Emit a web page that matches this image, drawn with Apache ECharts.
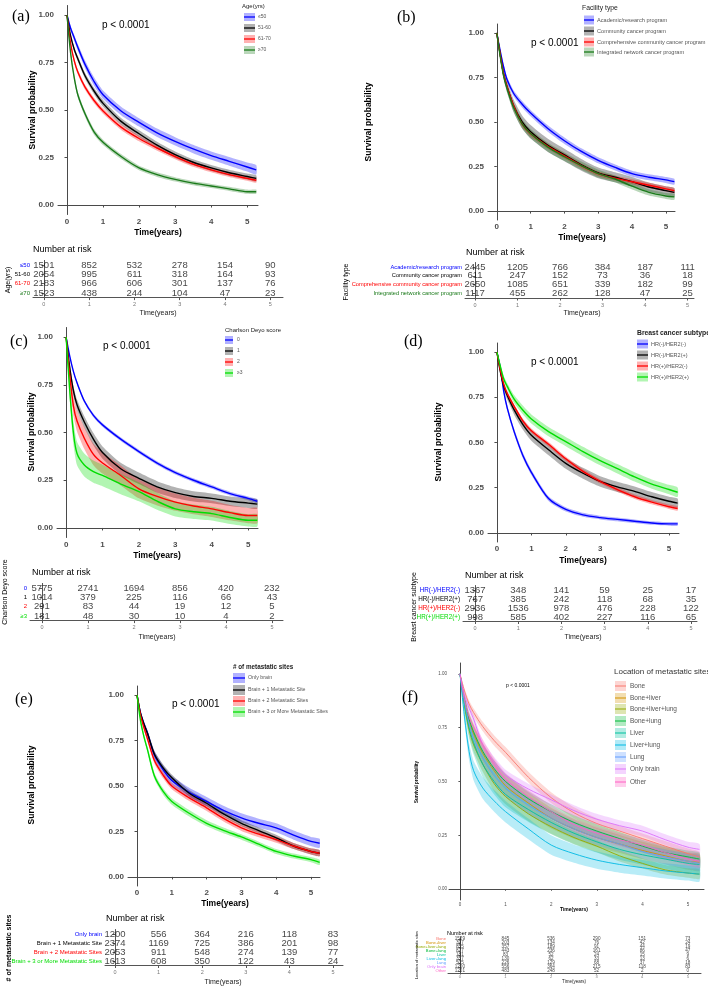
<!DOCTYPE html>
<html><head><meta charset="utf-8">
<script src="https://cdn.jsdelivr.net/npm/echarts@6/dist/echarts.min.js"></script>
<style>html,body{margin:0;padding:0;background:#fff}#c{width:708px;height:989px}</style>
</head><body><div id="c"></div>
<script>
// ---------- DATA ----------
const T = [0, 0.1, 0.2, 0.3, 0.5, 0.75, 1, 1.5, 2, 2.5, 3, 3.5, 4, 4.5, 5, 5.25];
const riskTimes = [0, 1, 2, 3, 4, 5];
const xTicks = [0, 1, 2, 3, 4, 5];
const yTicks = [0, 0.25, 0.5, 0.75, 1];

// (a) Age
const ageGroups = ['≤50', '51-60', '61-70', '≥70'];
const ageSurv = [
  [1, 0.93, 0.88, 0.83, 0.74, 0.65, 0.58, 0.495, 0.435, 0.38, 0.335, 0.295, 0.26, 0.23, 0.20, 0.185],
  [1, 0.89, 0.82, 0.77, 0.68, 0.60, 0.535, 0.44, 0.375, 0.315, 0.265, 0.225, 0.195, 0.17, 0.15, 0.14],
  [1, 0.85, 0.76, 0.70, 0.62, 0.55, 0.495, 0.41, 0.35, 0.30, 0.255, 0.215, 0.185, 0.16, 0.14, 0.13],
  [1, 0.80, 0.67, 0.58, 0.48, 0.385, 0.33, 0.255, 0.195, 0.16, 0.135, 0.115, 0.10, 0.085, 0.07, 0.07]
];
const ageCI = [
  [0, 0.012, 0.015, 0.017, 0.02, 0.022, 0.022, 0.022, 0.022, 0.022, 0.022, 0.022, 0.022, 0.023, 0.024, 0.025],
  [0, 0.01, 0.012, 0.014, 0.016, 0.017, 0.018, 0.018, 0.018, 0.018, 0.017, 0.016, 0.016, 0.016, 0.016, 0.016],
  [0, 0.01, 0.012, 0.013, 0.014, 0.015, 0.015, 0.015, 0.015, 0.014, 0.014, 0.014, 0.013, 0.013, 0.013, 0.013],
  [0, 0.012, 0.014, 0.015, 0.015, 0.015, 0.014, 0.013, 0.012, 0.012, 0.011, 0.011, 0.011, 0.011, 0.011, 0.011]
];
const ageRisk = [
  [1501, 852, 532, 278, 154, 90],
  [2054, 995, 611, 318, 164, 93],
  [2183, 966, 606, 301, 137, 76],
  [1523, 438, 244, 104, 47, 23]
];

// (b) Facility type
const facGroups = ['Academic/research program', 'Community cancer program', 'Comprehensive community cancer program', 'Integrated network cancer program'];
const facSurv = [
  [1, 0.90, 0.81, 0.74, 0.66, 0.60, 0.55, 0.465, 0.395, 0.335, 0.285, 0.245, 0.21, 0.19, 0.175, 0.165],
  [1, 0.88, 0.77, 0.70, 0.59, 0.50, 0.445, 0.37, 0.315, 0.26, 0.215, 0.19, 0.165, 0.135, 0.115, 0.105],
  [1, 0.88, 0.77, 0.70, 0.59, 0.49, 0.435, 0.365, 0.31, 0.255, 0.21, 0.185, 0.165, 0.145, 0.125, 0.115],
  [1, 0.87, 0.76, 0.69, 0.58, 0.49, 0.435, 0.36, 0.305, 0.255, 0.21, 0.18, 0.14, 0.105, 0.085, 0.08]
];
const facCI = [
  [0, 0.01, 0.013, 0.015, 0.017, 0.018, 0.018, 0.018, 0.018, 0.017, 0.017, 0.017, 0.017, 0.017, 0.017, 0.017],
  [0, 0.02, 0.025, 0.03, 0.035, 0.037, 0.038, 0.037, 0.035, 0.033, 0.03, 0.028, 0.027, 0.026, 0.025, 0.025],
  [0, 0.01, 0.012, 0.014, 0.016, 0.016, 0.016, 0.015, 0.015, 0.014, 0.014, 0.014, 0.014, 0.014, 0.014, 0.014],
  [0, 0.015, 0.02, 0.022, 0.025, 0.026, 0.026, 0.025, 0.024, 0.023, 0.022, 0.02, 0.019, 0.018, 0.017, 0.017]
];
const facRisk = [
  [2445, 1205, 766, 384, 187, 111],
  [611, 247, 152, 73, 36, 18],
  [2650, 1085, 651, 339, 182, 99],
  [1117, 455, 262, 128, 47, 25]
];

// (c) Charlson Deyo score
const cdsGroups = ['0', '1', '2', '≥3'];
const cdsSurv = [
  [1, 0.90, 0.82, 0.76, 0.665, 0.59, 0.54, 0.465, 0.40, 0.34, 0.29, 0.25, 0.215, 0.18, 0.155, 0.14],
  [1, 0.84, 0.72, 0.645, 0.555, 0.465, 0.395, 0.31, 0.26, 0.215, 0.185, 0.165, 0.155, 0.14, 0.13, 0.125],
  [1, 0.80, 0.64, 0.56, 0.47, 0.385, 0.34, 0.275, 0.205, 0.165, 0.135, 0.115, 0.10, 0.08, 0.065, 0.065],
  [1, 0.72, 0.50, 0.39, 0.33, 0.295, 0.275, 0.23, 0.19, 0.14, 0.10, 0.085, 0.075, 0.055, 0.04, 0.04]
];
const cdsCI = [
  [0, 0.005, 0.007, 0.008, 0.009, 0.01, 0.01, 0.01, 0.01, 0.01, 0.01, 0.01, 0.01, 0.01, 0.01, 0.01],
  [0, 0.02, 0.025, 0.028, 0.03, 0.032, 0.032, 0.031, 0.03, 0.03, 0.028, 0.027, 0.026, 0.025, 0.025, 0.025],
  [0, 0.04, 0.05, 0.055, 0.057, 0.056, 0.055, 0.052, 0.05, 0.047, 0.045, 0.043, 0.042, 0.04, 0.04, 0.04],
  [0, 0.05, 0.06, 0.062, 0.06, 0.058, 0.056, 0.053, 0.05, 0.045, 0.04, 0.038, 0.036, 0.034, 0.032, 0.032]
];
const cdsRisk = [
  [5775, 2741, 1694, 856, 420, 232],
  [1014, 379, 225, 116, 66, 43],
  [291, 83, 44, 19, 12, 5],
  [181, 48, 30, 10, 4, 2]
];

// (d) Breast cancer subtype
const subGroups = ['HR(-)/HER2(-)', 'HR(-)/HER2(+)', 'HR(+)/HER2(-)', 'HR(+)/HER2(+)'];
const subSurv = [
  [1, 0.91, 0.78, 0.69, 0.56, 0.43, 0.335, 0.19, 0.13, 0.10, 0.085, 0.075, 0.065, 0.055, 0.05, 0.05],
  [1, 0.89, 0.81, 0.76, 0.68, 0.60, 0.54, 0.46, 0.385, 0.33, 0.285, 0.255, 0.23, 0.20, 0.175, 0.165],
  [1, 0.90, 0.82, 0.77, 0.70, 0.62, 0.565, 0.49, 0.41, 0.34, 0.285, 0.24, 0.20, 0.17, 0.145, 0.135],
  [1, 0.92, 0.85, 0.81, 0.74, 0.68, 0.63, 0.56, 0.505, 0.45, 0.40, 0.355, 0.31, 0.27, 0.24, 0.225]
];
const subCI = [
  [0, 0.01, 0.013, 0.015, 0.016, 0.016, 0.015, 0.013, 0.012, 0.011, 0.01, 0.01, 0.01, 0.01, 0.01, 0.01],
  [0, 0.015, 0.02, 0.023, 0.026, 0.028, 0.03, 0.03, 0.03, 0.03, 0.029, 0.028, 0.027, 0.026, 0.025, 0.025],
  [0, 0.008, 0.01, 0.011, 0.012, 0.013, 0.013, 0.013, 0.013, 0.013, 0.012, 0.012, 0.012, 0.012, 0.012, 0.012],
  [0, 0.012, 0.016, 0.018, 0.022, 0.024, 0.025, 0.026, 0.026, 0.026, 0.026, 0.026, 0.026, 0.026, 0.026, 0.026]
];
const subRisk = [
  [1367, 348, 141, 59, 25, 17],
  [767, 385, 242, 118, 68, 35],
  [2936, 1536, 978, 476, 228, 122],
  [998, 585, 402, 227, 116, 65]
];

// (e) # of metastatic sites
const numGroups = ['Only brain', 'Brain + 1 Metastatic Site', 'Brain + 2 Metastatic Sites', 'Brain + 3 or More Metastatic Sites'];
const numSurv = [
  [1, 0.90, 0.84, 0.79, 0.67, 0.59, 0.53, 0.465, 0.415, 0.365, 0.325, 0.295, 0.27, 0.23, 0.195, 0.185],
  [1, 0.90, 0.84, 0.79, 0.675, 0.60, 0.545, 0.46, 0.405, 0.345, 0.295, 0.255, 0.215, 0.17, 0.14, 0.13],
  [1, 0.89, 0.82, 0.76, 0.64, 0.56, 0.50, 0.435, 0.38, 0.32, 0.27, 0.235, 0.205, 0.17, 0.14, 0.13],
  [1, 0.86, 0.77, 0.70, 0.555, 0.47, 0.415, 0.35, 0.295, 0.255, 0.22, 0.18, 0.14, 0.115, 0.095, 0.08]
];
const numCI = [
  [0, 0.012, 0.016, 0.019, 0.022, 0.024, 0.025, 0.025, 0.025, 0.025, 0.025, 0.025, 0.025, 0.025, 0.025, 0.025],
  [0, 0.01, 0.012, 0.014, 0.017, 0.018, 0.018, 0.018, 0.018, 0.017, 0.017, 0.017, 0.017, 0.017, 0.017, 0.017],
  [0, 0.01, 0.012, 0.014, 0.017, 0.018, 0.018, 0.018, 0.018, 0.017, 0.017, 0.017, 0.017, 0.017, 0.017, 0.017],
  [0, 0.01, 0.012, 0.014, 0.017, 0.018, 0.018, 0.018, 0.017, 0.016, 0.015, 0.014, 0.014, 0.014, 0.014, 0.014]
];
const numRisk = [
  [1200, 556, 364, 216, 118, 83],
  [2374, 1169, 725, 386, 201, 98],
  [2053, 911, 548, 274, 139, 77],
  [1613, 608, 350, 122, 43, 24]
];

// (f) Location of metastatic sites
const locGroups = ['Bone', 'Bone+liver', 'Bone+liver+lung', 'Bone+lung', 'Liver', 'Liver+lung', 'Lung', 'Only brain', 'Other'];
const locSurv = [
  [1, 0.92, 0.86, 0.82, 0.755, 0.69, 0.635, 0.52, 0.425, 0.355, 0.305, 0.27, 0.235, 0.20, 0.165, 0.15],
  [1, 0.88, 0.78, 0.72, 0.63, 0.55, 0.48, 0.40, 0.33, 0.28, 0.24, 0.21, 0.18, 0.155, 0.13, 0.125],
  [1, 0.85, 0.74, 0.67, 0.58, 0.49, 0.43, 0.35, 0.29, 0.24, 0.20, 0.155, 0.12, 0.09, 0.075, 0.07],
  [1, 0.88, 0.79, 0.73, 0.64, 0.56, 0.50, 0.42, 0.36, 0.31, 0.27, 0.235, 0.20, 0.17, 0.15, 0.14],
  [1, 0.86, 0.75, 0.68, 0.58, 0.50, 0.44, 0.37, 0.31, 0.26, 0.22, 0.185, 0.16, 0.14, 0.12, 0.115],
  [1, 0.80, 0.64, 0.55, 0.47, 0.41, 0.36, 0.28, 0.205, 0.165, 0.135, 0.115, 0.10, 0.085, 0.075, 0.07],
  [1, 0.87, 0.77, 0.70, 0.61, 0.53, 0.47, 0.39, 0.33, 0.28, 0.24, 0.21, 0.175, 0.15, 0.13, 0.12],
  [1, 0.90, 0.84, 0.79, 0.67, 0.59, 0.53, 0.465, 0.415, 0.365, 0.325, 0.295, 0.27, 0.23, 0.195, 0.185],
  [1, 0.88, 0.80, 0.75, 0.67, 0.58, 0.51, 0.43, 0.36, 0.30, 0.26, 0.23, 0.205, 0.17, 0.14, 0.13]
];
const locCI = [
  [0, 0.012, 0.016, 0.019, 0.022, 0.024, 0.025, 0.025, 0.025, 0.025, 0.024, 0.024, 0.024, 0.024, 0.024, 0.024],
  [0, 0.03, 0.04, 0.045, 0.05, 0.05, 0.05, 0.05, 0.048, 0.046, 0.044, 0.042, 0.04, 0.04, 0.04, 0.04],
  [0, 0.02, 0.028, 0.032, 0.035, 0.036, 0.036, 0.035, 0.033, 0.03, 0.028, 0.026, 0.024, 0.022, 0.022, 0.022],
  [0, 0.02, 0.028, 0.032, 0.035, 0.036, 0.036, 0.035, 0.034, 0.033, 0.032, 0.031, 0.03, 0.03, 0.03, 0.03],
  [0, 0.04, 0.05, 0.055, 0.06, 0.06, 0.06, 0.058, 0.055, 0.052, 0.05, 0.048, 0.046, 0.045, 0.045, 0.045],
  [0, 0.03, 0.04, 0.045, 0.05, 0.05, 0.05, 0.048, 0.045, 0.042, 0.04, 0.038, 0.036, 0.035, 0.035, 0.035],
  [0, 0.025, 0.032, 0.036, 0.04, 0.042, 0.042, 0.042, 0.04, 0.038, 0.036, 0.035, 0.034, 0.034, 0.034, 0.034],
  [0, 0.012, 0.016, 0.019, 0.022, 0.024, 0.025, 0.025, 0.025, 0.025, 0.025, 0.025, 0.025, 0.025, 0.025, 0.025],
  [0, 0.015, 0.02, 0.023, 0.026, 0.028, 0.03, 0.03, 0.03, 0.03, 0.03, 0.03, 0.03, 0.03, 0.03, 0.03]
];
const locRisk = [
  [1529, 845, 536, 290, 151, 73],
  [397, 203, 134, 76, 42, 24],
  [855, 357, 189, 91, 44, 19],
  [877, 443, 236, 161, 86, 47],
  [181, 83, 52, 24, 15, 9],
  [357, 130, 62, 33, 13, 6],
  [505, 226, 129, 68, 37, 18],
  [1200, 556, 364, 215, 118, 83],
  [1201, 483, 248, 52, 2, 0]
];

// ---------- STYLE / LAYOUT ----------
const SANS = 'Liberation Sans, Arial, Helvetica, sans-serif';
const SERIF = 'Liberation Serif, Times New Roman, serif';
const colA = ['#0000FF', '#000000', '#FF0000', '#1A7A1A'];
const colC = ['#0000FF', '#000000', '#FF0000', '#00DD00'];
const colF = ['#F8766D', '#D39200', '#93AA00', '#00BA38', '#00C19F', '#00B9E3', '#619CFF', '#DB72FB', '#FF61C3'];

const plots = [
  {l: 58, t: 5.5, w: 200, h: 209, xmin: -0.25, xmax: 5.3, surv: ageSurv, ci: ageCI, col: colA, lw: 1.4, fs: 8},
  {l: 488, t: 24, w: 187, h: 196, xmin: -0.26, xmax: 5.27, surv: facSurv, ci: facCI, col: colA, lw: 1.4, fs: 8},
  {l: 57, t: 327.5, w: 201, h: 210, xmin: -0.25, xmax: 5.27, surv: cdsSurv, ci: cdsCI, col: colC, lw: 1.4, fs: 8},
  {l: 488, t: 343, w: 191, h: 199, xmin: -0.26, xmax: 5.29, surv: subSurv, ci: subCI, col: colC, lw: 1.4, fs: 8},
  {l: 128, t: 686, w: 192, h: 200, xmin: -0.26, xmax: 5.26, surv: numSurv, ci: numCI, col: colC, lw: 1.4, fs: 8},
  {l: 449, t: 663, w: 255, h: 237, xmin: -0.24, xmax: 5.35, surv: locSurv, ci: locCI, col: colF, lw: 0.9, fs: 4.5, thin: true}
];
const tables = [
  {l: 33, t: 260.4, w: 250, h: 37.2, xmin: -0.24, xmax: 5.28, names: ageGroups, risk: ageRisk, col: colA, fs: 9.5, lfs: 6},
  {l: 465, t: 262.5, w: 229, h: 35.5, xmin: -0.235, xmax: 5.15, names: facGroups, risk: facRisk, col: colA, fs: 9.5, lfs: 5.7},
  {l: 30, t: 583.4, w: 253, h: 37.2, xmin: -0.26, xmax: 5.24, names: cdsGroups, risk: cdsRisk, col: colC, fs: 9.5, lfs: 6},
  {l: 463, t: 585.5, w: 234, h: 36, xmin: -0.28, xmax: 5.14, names: subGroups, risk: subRisk, col: colC, fs: 9.5, lfs: 6.3},
  {l: 105, t: 929.5, w: 238, h: 36, xmin: -0.23, xmax: 5.23, names: numGroups, risk: numRisk, col: colC, fs: 9.5, lfs: 6},
  {l: 448, t: 937, w: 253, h: 36, xmin: -0.26, xmax: 5.29, names: locGroups, risk: locRisk, col: colF, fs: 4.6, lfs: 4.2, thin: true}
];

function hexA(hex, a) {
  const n = parseInt(hex.slice(1), 16);
  return 'rgba(' + (n >> 16 & 255) + ',' + (n >> 8 & 255) + ',' + (n & 255) + ',' + a + ')';
}

const grids = [], xAxes = [], yAxes = [], series = [];
const AX = '#4a4a4a';
const SM = 0.3;

plots.forEach((p, gi) => {
  grids.push({left: p.l, top: p.t, width: p.w, height: p.h, containLabel: false, outerBoundsMode: 'none'});
  xAxes.push({
    gridIndex: gi, type: 'value', min: p.xmin, max: p.xmax,
    axisLine: {show: true, lineStyle: {color: AX, width: 1}},
    axisTick: {show: true, customValues: xTicks, length: p.thin ? 1.5 : 2.5, lineStyle: {color: AX}},
    axisLabel: {customValues: xTicks, fontSize: p.fs, fontWeight: p.thin ? 'normal' : 'bold', color: '#4d4d4d', margin: p.thin ? 2 : 3, fontFamily: SANS},
    splitLine: {show: false}
  });
  yAxes.push({
    gridIndex: gi, type: 'value', min: -0.05, max: 1.05,
    axisLine: {show: true, lineStyle: {color: AX, width: 1}},
    axisTick: {show: true, customValues: yTicks, length: p.thin ? 1.5 : 2.5, lineStyle: {color: AX}},
    axisLabel: {customValues: yTicks, fontSize: p.fs, fontWeight: p.thin ? 'normal' : 'bold', color: '#4d4d4d', margin: p.thin ? 2 : 4, fontFamily: SANS, formatter: v => v.toFixed(2)},
    splitLine: {show: false}
  });
  // confidence bands (polygons through the axis scales)
  p.surv.forEach((s, k) => {
    const ci = p.ci[k];
    const fill = hexA(p.col[k], p.thin ? 0.28 : 0.3);
    series.push({
      type: 'custom', xAxisIndex: gi, yAxisIndex: gi, silent: true, clip: true, z: 1,
      data: [[T[0], s[0]]],
      renderItem: (params, api) => {
        const up = T.map((t, i) => api.coord([t, s[i] + ci[i]]));
        const lo = T.map((t, i) => api.coord([t, s[i] - ci[i]])).reverse();
        return {type: 'polygon', shape: {points: up.concat(lo), smooth: 0.2}, style: {fill: fill}};
      }
    });
  });
  // survival curves
  p.surv.forEach((s, k) => {
    series.push({type: 'line', xAxisIndex: gi, yAxisIndex: gi, symbol: 'none', smooth: SM, silent: true, z: 3,
      lineStyle: {color: p.col[k], width: p.lw}, data: T.map((t, i) => [t, s[i]])});
  });
});

tables.forEach((tb, j) => {
  const gi = plots.length + j;
  grids.push({left: tb.l, top: tb.t, width: tb.w, height: tb.h, containLabel: false, outerBoundsMode: 'none'});
  xAxes.push({
    gridIndex: gi, type: 'value', min: tb.xmin, max: tb.xmax,
    axisLine: {show: true, lineStyle: {color: '#555', width: 1}},
    axisTick: {show: true, customValues: xTicks, length: tb.thin ? 1.5 : 2.5, lineStyle: {color: '#555'}},
    axisLabel: {customValues: xTicks, fontSize: tb.thin ? 4 : 5.5, color: '#777', margin: tb.thin ? 2 : 4, fontFamily: SANS},
    splitLine: {show: false}
  });
  yAxes.push({
    gridIndex: gi, type: 'category', data: tb.names, inverse: true,
    axisLine: {show: true, lineStyle: {color: '#555', width: 1}},
    axisTick: {show: true, alignWithLabel: true, length: tb.thin ? 1.5 : 2.5, lineStyle: {color: '#555'}},
    axisLabel: {fontSize: tb.lfs, margin: tb.thin ? 2 : 3, fontFamily: SANS, interval: 0, color: (v, idx) => tb.col[idx]},
    splitLine: {show: false}
  });
  const data = [];
  tb.risk.forEach((row, r) => row.forEach((n, c) => data.push([riskTimes[c], r, n])));
  series.push({type: 'scatter', xAxisIndex: gi, yAxisIndex: gi, symbolSize: 1, silent: true,
    itemStyle: {color: 'rgba(0,0,0,0)'},
    label: {show: true, position: 'inside', formatter: q => String(q.value[2]), color: '#111', fontSize: tb.fs, fontFamily: SANS},
    data: data});
});

// ---------- TEXT / LEGENDS ----------
const G = [];
function txt(x, y, s, o) {
  o = o || {};
  G.push({type: 'text', x: x, y: y, rotation: o.rot ? Math.PI / 2 : 0, silent: true, z: 10,
    style: {text: s, fontSize: o.fs || 8, fontFamily: o.ff || SANS, fontWeight: o.fw || 'normal', fill: o.c || '#000',
      align: o.a || 'left', verticalAlign: 'middle'}});
}
function legend(x, ys, w, h, names, cols, lx, lfs, lc, lw) {
  names.forEach((n, k) => {
    G.push({type: 'rect', silent: true, z: 10, shape: {x: x, y: ys[k] - h / 2, width: w, height: h}, style: {fill: hexA(cols[k], 0.3)}});
    G.push({type: 'line', silent: true, z: 11, shape: {x1: x, y1: ys[k], x2: x + w, y2: ys[k]}, style: {stroke: cols[k], lineWidth: lw || 1.3}});
    txt(lx, ys[k], n, {fs: lfs, c: lc || '#555'});
  });
}
const pTxt = 'p < 0.0001';
// (a)
txt(12, 17, '(a)', {fs: 16, ff: SERIF});
txt(102, 25, pTxt, {fs: 10});
txt(33, 110, 'Survival probability', {fs: 8.5, fw: 'bold', rot: 1, a: 'center'});
txt(158, 233, 'Time(years)', {fs: 8.5, fw: 'bold', a: 'center'});
txt(242, 6, 'Age(yrs)', {fs: 6, c: '#222'});
legend(244, [17, 28, 39, 50], 11, 8, ageGroups, colA, 258, 5);
txt(33, 250, 'Number at risk', {fs: 9});
txt(8, 280, 'Age(yrs)', {fs: 7, rot: 1, a: 'center'});
txt(158, 313, 'Time(years)', {fs: 7, a: 'center', c: '#222'});
// (b)
txt(397, 18, '(b)', {fs: 16, ff: SERIF});
txt(531, 43, pTxt, {fs: 10});
txt(369, 122, 'Survival probability', {fs: 8.5, fw: 'bold', rot: 1, a: 'center'});
txt(582, 238, 'Time(years)', {fs: 8.5, fw: 'bold', a: 'center'});
txt(582, 8, 'Facility type', {fs: 6.8, c: '#222'});
legend(584, [20, 31, 42, 52], 10, 9, facGroups, colA, 597, 5.6);
txt(466, 253, 'Number at risk', {fs: 9});
txt(346, 282, 'Facility type', {fs: 7, rot: 1, a: 'center'});
txt(582, 313, 'Time(years)', {fs: 7, a: 'center', c: '#222'});
// (c)
txt(10, 342, '(c)', {fs: 16, ff: SERIF});
txt(103, 346, pTxt, {fs: 10});
txt(32, 432, 'Survival probability', {fs: 8.5, fw: 'bold', rot: 1, a: 'center'});
txt(157, 556, 'Time(years)', {fs: 8.5, fw: 'bold', a: 'center'});
txt(225, 330, 'Charlson Deyo score', {fs: 6, c: '#222'});
legend(225, [340, 351, 362, 373], 8, 8, cdsGroups, colC, 237, 5);
txt(32, 573, 'Number at risk', {fs: 9});
txt(5, 592, 'Charlson Deyo score', {fs: 7, rot: 1, a: 'center'});
txt(157, 637, 'Time(years)', {fs: 7, a: 'center', c: '#222'});
// (d)
txt(404, 342, '(d)', {fs: 16, ff: SERIF});
txt(531, 362, pTxt, {fs: 10});
txt(439, 442, 'Survival probability', {fs: 8.5, fw: 'bold', rot: 1, a: 'center'});
txt(583, 561, 'Time(years)', {fs: 8.5, fw: 'bold', a: 'center'});
txt(637, 333, 'Breast cancer subtype', {fs: 6.8, fw: 'bold', c: '#222'});
legend(637, [344, 355, 366, 377], 11, 9, subGroups, colC, 651, 5.5);
txt(465, 576, 'Number at risk', {fs: 9});
txt(414, 607, 'Breast cancer subtype', {fs: 7, rot: 1, a: 'center'});
txt(583, 637, 'Time(years)', {fs: 7, a: 'center', c: '#222'});
// (e)
txt(15, 700, '(e)', {fs: 16, ff: SERIF});
txt(172, 704, pTxt, {fs: 10});
txt(32, 785, 'Survival probability', {fs: 8.5, fw: 'bold', rot: 1, a: 'center'});
txt(225, 904, 'Time(years)', {fs: 8.5, fw: 'bold', a: 'center'});
txt(233, 667, '# of metastatic sites', {fs: 6.3, fw: 'bold', c: '#222'});
legend(233, [678, 690, 701, 712], 12, 10, numGroups, colC, 248, 5.3);
txt(106, 919, 'Number at risk', {fs: 9});
txt(9, 948, '# of metastatic sites', {fs: 7, fw: 'bold', rot: 1, a: 'center'});
txt(223, 982, 'Time(years)', {fs: 7, a: 'center', c: '#222'});
// (f)
txt(402, 698, '(f)', {fs: 16, ff: SERIF});
txt(506, 686, pTxt, {fs: 5});
txt(417, 782, 'Survival probability', {fs: 4.5, fw: 'bold', rot: 1, a: 'center'});
txt(574, 910, 'Time(years)', {fs: 5, fw: 'bold', a: 'center'});
txt(614, 672, 'Location of metastatic sites', {fs: 8, c: '#333'});
legend(615, [686, 698, 709, 721, 733, 745, 757, 769, 782], 11, 10, locGroups, colF, 630, 6.5, '#555', 1);
txt(447, 933, 'Number at risk', {fs: 5.5});
txt(417, 955, 'Location of metastatic sites', {fs: 4, rot: 1, a: 'center'});
txt(574, 982, 'Time(years)', {fs: 4.5, a: 'center', c: '#222'});

const chart = echarts.init(document.getElementById('c'), null, {renderer: 'canvas'});
chart.setOption({
  animation: false,
  backgroundColor: '#fff',
  grid: grids, xAxis: xAxes, yAxis: yAxes, series: series,
  graphic: G
});
</script></body></html>
